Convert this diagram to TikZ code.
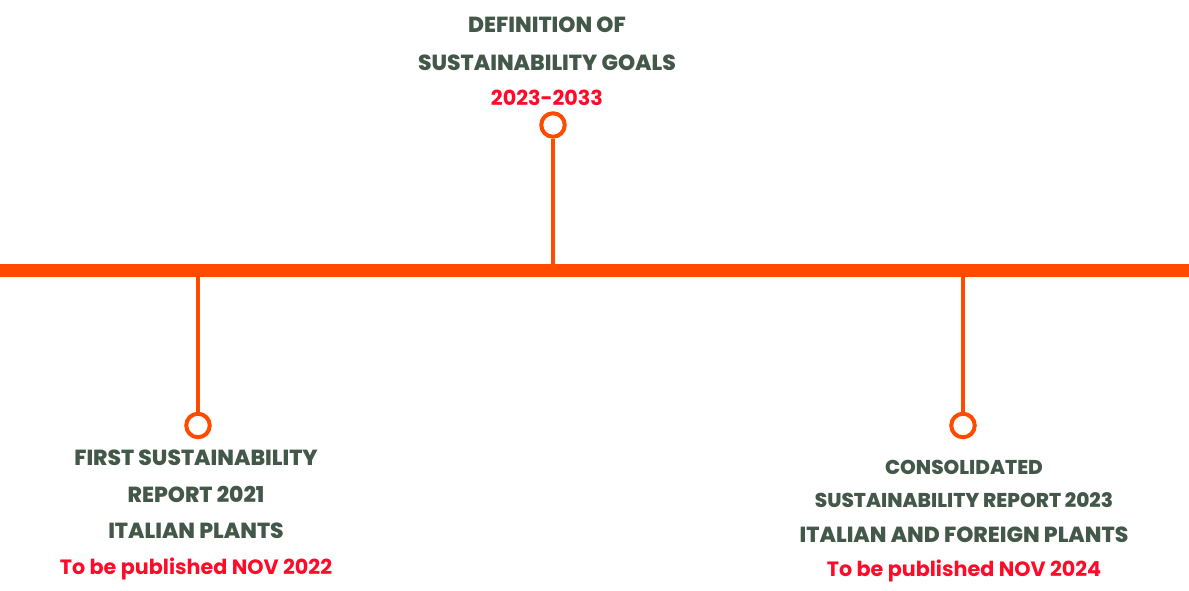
\documentclass[tikz,border=0pt]{standalone}
\usepackage{fontspec}
\setmainfont{Poppins}[BoldFont={* Bold}]
\newfontface\heavyface{Poppins ExtraBold}
\definecolor{lineorange}{RGB}{255,74,0}
\definecolor{textgreen}{RGB}{67,88,72}
\definecolor{textred}{RGB}{255,10,40}
\tikzset{
  title/.style={anchor=base, text=textgreen, font=\heavyface\fontsize{21.8}{26}\selectfont, inner sep=0pt},
  smalltitle/.style={title, font=\heavyface\fontsize{20}{24}\selectfont},
  datetext/.style={anchor=base, text=textred, font=\bfseries\fontsize{20.7}{24}\selectfont, inner sep=0pt},
  marker/.style={circle, draw=lineorange, line width=4pt, minimum size=23.5pt, inner sep=0pt, fill=white},
  stem/.style={draw=lineorange, line width=3.8pt}
}
\begin{document}
\begin{tikzpicture}[x=1pt, y=-1pt]
  \useasboundingbox (0,0) rectangle (1189,591);
  % timeline
  \coordinate (start) at (0,270);
  \coordinate (end) at (1189,270);
  \draw[lineorange, line width=13pt] (start) -- (end);
  \coordinate (goalsbase) at (553,270);
  \coordinate (firstbase) at (198,270);
  \coordinate (consbase) at (963,270);
  \draw
    (553,125) node[marker] (goals){}
    (198,425.5) node[marker] (first){}
    (963,425.5) node[marker] (cons){};
  \begin{scope}[stem]
    \draw (goalsbase) to (goals);
    \draw (firstbase) to (first);
    \draw (consbase) to (cons);
  \end{scope}
  % labels
  \node[title] (goals1) at (547,33) {DEFINITION OF};
  \node[title] (goals2) at (547,71) {SUSTAINABILITY GOALS};
  \node[datetext] (goals3) at (547,106) {2023-2033};
  \node[title] (first1) at (196,465) {FIRST SUSTAINABILITY};
  \node[title] (first2) at (196,502) {REPORT 2021};
  \node[title] (first3) at (196,538) {ITALIAN PLANTS};
  \node[datetext] (first4) at (196,574) {To be published NOV 2022};
  \node[smalltitle] (cons1) at (964,474) {CONSOLIDATED};
  \node[smalltitle] (cons2) at (964,507) {SUSTAINABILITY REPORT 2023};
  \node[title] (cons3) at (964,542) {ITALIAN AND FOREIGN PLANTS};
  \node[datetext] (cons4) at (964,576) {To be published NOV 2024};
\end{tikzpicture}
\end{document}
